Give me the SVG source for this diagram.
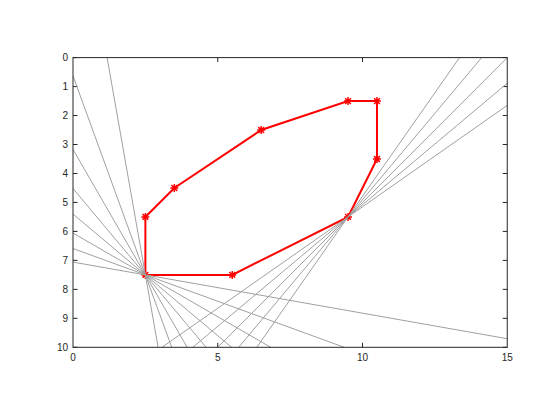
<svg xmlns="http://www.w3.org/2000/svg" width="560" height="420" viewBox="0 0 560 420">
<style>
.ax{stroke:#262626;stroke-width:1;fill:none}
.tk{stroke:#262626;stroke-width:1}
.lb{font-family:"Liberation Sans",Arial,sans-serif;font-size:10px;fill:#262626}
.yl{text-anchor:end}
.xl{text-anchor:middle}
.ray{stroke:#a0a0a0;stroke-width:1;fill:none}
.poly{stroke:#ff0000;stroke-width:2;fill:none;stroke-linejoin:miter}
.mk{stroke:#ff0000;stroke-width:1.5;fill:none}
</style>
<defs>
<path id="star" d="M-4 0H4M0 -4V4M-2.9 -2.9L2.9 2.9M-2.9 2.9L2.9 -2.9"/>
</defs>
<rect width="560" height="420" fill="#ffffff"/>
<g id="axes">
<g id="ticks" class="tk">
<path d="M73 57.6h4.5M73 86.57h4.5M73 115.54h4.5M73 144.51h4.5M73 173.48h4.5M73 202.45h4.5M73 231.42h4.5M73 260.39h4.5M73 289.36h4.5M73 318.33h4.5M73 347.3h4.5"/>
<path d="M507.25 57.6h-4.5M507.25 86.57h-4.5M507.25 115.54h-4.5M507.25 144.51h-4.5M507.25 173.48h-4.5M507.25 202.45h-4.5M507.25 231.42h-4.5M507.25 260.39h-4.5M507.25 289.36h-4.5M507.25 318.33h-4.5M507.25 347.3h-4.5"/>
<path d="M217.75 347.3v-4.5M362.5 347.3v-4.5M217.75 57.6v4.5M362.5 57.6v4.5"/>
</g>
<g id="ylabels" class="lb yl">
<text x="68" y="61.1">0</text>
<text x="68" y="90.07">1</text>
<text x="68" y="119.04">2</text>
<text x="68" y="148.01">3</text>
<text x="68" y="176.98">4</text>
<text x="68" y="205.95">5</text>
<text x="68" y="234.92">6</text>
<text x="68" y="263.89">7</text>
<text x="68" y="292.86">8</text>
<text x="68" y="321.83">9</text>
<text x="68" y="350.8">10</text>
</g>
<g id="xlabels" class="lb xl">
<text x="73" y="360.5">0</text>
<text x="217.75" y="360.5">5</text>
<text x="362.5" y="360.5">10</text>
<text x="507.25" y="360.5">15</text>
</g>
</g>
<g id="polygon">
<polyline class="poly" points="145.38,274.88 232.23,274.88 348.03,216.94 376.98,159 376.98,101.06 348.03,101.06 261.18,130.03 174.33,187.97 145.38,216.94 145.38,274.88"/>
<g class="mk">
<use href="#star" x="145.38" y="274.88"/>
<use href="#star" x="232.23" y="274.88"/>
<use href="#star" x="348.03" y="216.94"/>
<use href="#star" x="376.98" y="159"/>
<use href="#star" x="376.98" y="101.06"/>
<use href="#star" x="348.03" y="101.06"/>
<use href="#star" x="261.18" y="130.03"/>
<use href="#star" x="174.33" y="187.97"/>
<use href="#star" x="145.38" y="216.94"/>
</g>
</g>
<g id="connectors" class="ray">
<line x1="73" y1="262.11" x2="507.25" y2="338.72"/>
<line x1="73" y1="248.52" x2="344.22" y2="347.3"/>
<line x1="73" y1="233.06" x2="270.73" y2="347.3"/>
<line x1="73" y1="214.10" x2="231.63" y2="347.3"/>
<line x1="73" y1="188.56" x2="206.10" y2="347.3"/>
<line x1="73" y1="149.43" x2="187.16" y2="347.3"/>
<line x1="73" y1="75.89" x2="171.72" y2="347.3"/>
<line x1="107.09" y1="57.6" x2="158.14" y2="347.3"/>
<line x1="507.25" y1="105.37" x2="161.97" y2="347.3"/>
<line x1="507.25" y1="83.24" x2="192.77" y2="347.3"/>
<line x1="507.25" y1="57.6" x2="217.75" y2="347.3"/>
<line x1="481.63" y1="57.6" x2="238.71" y2="347.3"/>
<line x1="459.51" y1="57.6" x2="256.81" y2="347.3"/>
</g>
<rect id="box" class="ax" x="73" y="57.6" width="434.25" height="289.7"/>
</svg>
